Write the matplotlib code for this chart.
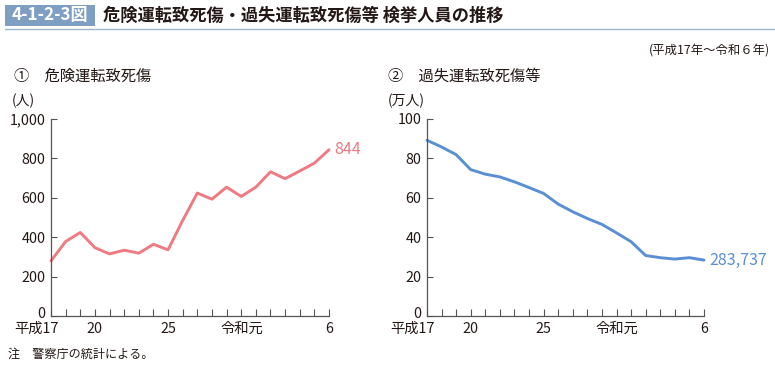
import matplotlib
matplotlib.use("Agg")
import matplotlib.pyplot as plt
import matplotlib.transforms as mtransforms
from matplotlib.patches import Rectangle
from matplotlib.lines import Line2D

plt.rcParams['font.family'] = ['Noto Sans CJK JP', 'DejaVu Sans']

# データ（平成17年～令和6年）
years = list(range(2005, 2025))
tick_pos = [0, 3, 8, 14, 19]
tick_labels = ['平成17', '20', '25', '令和元', '6']

kiken = [280, 378, 424, 347, 315, 334, 319, 364, 336, 485,
         624, 593, 654, 607, 654, 732, 697, 736, 776, 844]
kashitsu = [89.2, 85.8, 81.9, 74.3, 72.0, 70.6, 68.1, 65.2, 62.2, 56.8,
            52.9, 49.5, 46.5, 42.2, 37.7, 30.7, 29.6, 28.9, 29.6, 28.37]
kiken_last = '844'
kashitsu_last = '283,737'

pink = '#EF7A82'
blue = '#5B8FD3'
axis_col = '#555555'
text_col = '#231815'

fig = plt.figure(figsize=(7.75, 3.66), dpi=100)
W, H = 775, 366

def px(x0, y0, x1, y1):
    return [x0 / W, 1 - y1 / H, (x1 - x0) / W, (y1 - y0) / H]

def shift(dx, dy):
    return mtransforms.ScaledTranslation(dx / 100, dy / 100, fig.dpi_scale_trans)

# タイトル
fig.patches.append(Rectangle((5 / W, 1 - 26 / H), 90 / W, 21 / H, transform=fig.transFigure,
                             facecolor='#7E9EC2', edgecolor='none'))
fig.text(50 / W, 1 - 15.5 / H, '4-1-2-3図', color='white', fontsize=12.3, fontweight='bold',
         ha='center', va='center')
fig.text(103 / W, 1 - 15.5 / H, '危険運転致死傷・過失運転致死傷等 検挙人員の推移', color=text_col,
         fontsize=12.4, fontweight='bold', ha='left', va='center')
fig.lines.append(Line2D([5 / W, 1], [1 - 28.5 / H, 1 - 28.5 / H], transform=fig.transFigure,
                        color='#9DB6D2', lw=1))
fig.text(770 / W, 1 - 50 / H, '(平成17年～令和６年)', color=text_col, fontsize=8.9, ha='right', va='center')
fig.text(8 / W, 1 - 354 / H, '注　警察庁の統計による。', color=text_col, fontsize=8.7, ha='left', va='center')


def draw(ax, vals, color, ymax, yticks, yticklabels, last_label, title, unit, title_x, unit_x):
    x = list(range(len(years)))
    ax.plot(x, vals, color=color, lw=2.1, solid_capstyle='round', clip_on=False)
    ax.set_xlim(0, len(years) - 1)
    ax.set_ylim(0, ymax)
    ax.set_xticks(x, minor=True)
    ax.set_xticks(tick_pos)
    ax.set_xticklabels(tick_labels)
    ax.set_yticks(yticks)
    ax.set_yticklabels(yticklabels)
    for s in ['top', 'right']:
        ax.spines[s].set_visible(False)
    for s in ['left', 'bottom']:
        ax.spines[s].set_color(axis_col)
        ax.spines[s].set_linewidth(0.9)
    ax.tick_params(axis='x', which='both', direction='in', length=5, width=0.8, color=axis_col,
                   labelsize=10.3, labelcolor=text_col, pad=4.5)
    ax.tick_params(axis='y', direction='in', length=4, width=0.8, color=axis_col,
                   labelsize=10.3, labelcolor=text_col, pad=4)
    # 平成17・令和元のラベル位置を調整
    for i, lab in enumerate(ax.get_xticklabels()):
        if tick_labels[i] == '平成17':
            lab.set_ha('right')
            lab.set_transform(lab.get_transform() + shift(7.5, 0))
        elif tick_labels[i] == '令和元':
            lab.set_ha('right')
            lab.set_transform(lab.get_transform() + shift(7, 0))
    # 0 のラベルを少し上げる
    ylab0 = ax.get_yticklabels()[0]
    ylab0.set_transform(ylab0.get_transform() + shift(0, 4))
    ax.annotate(last_label, (x[-1], vals[-1]), xytext=(4, 0), textcoords='offset points',
                color=color, fontsize=11.5, ha='left', va='center', annotation_clip=False)
    fig.text(title_x / W, 1 - 76 / H, title, color=text_col, fontsize=11, ha='left', va='center')
    fig.text(unit_x / W, 1 - 101 / H, unit, color=text_col, fontsize=10, ha='left', va='center')


ax1 = fig.add_axes(px(51, 119, 329, 316))
draw(ax1, kiken, pink, 1000, [0, 200, 400, 600, 800, 1000],
     ['0', '200', '400', '600', '800', '1,000'], kiken_last, '①　危険運転致死傷', '(人)', 14, 12)

ax2 = fig.add_axes(px(427, 119, 704, 316))
draw(ax2, kashitsu, blue, 100, [0, 20, 40, 60, 80, 100],
     ['0', '20', '40', '60', '80', '100'], kashitsu_last, '②　過失運転致死傷等', '(万人)', 388, 388)

fig.savefig('out.png', dpi=100)
